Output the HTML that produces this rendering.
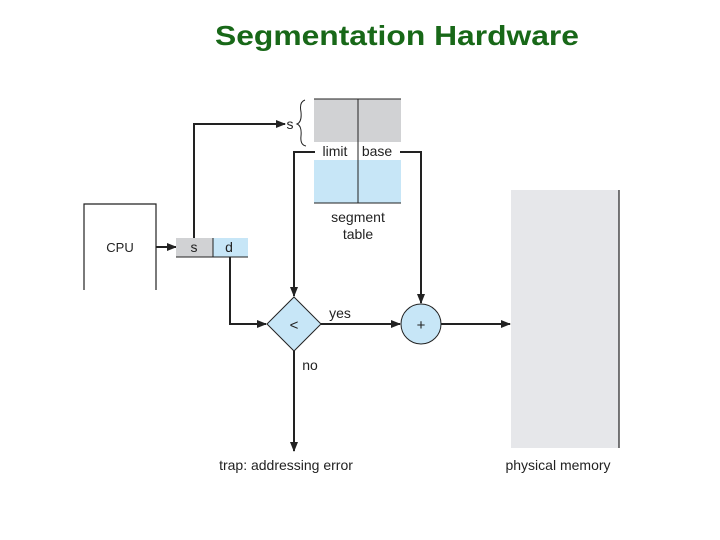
<!DOCTYPE html>
<html><head><meta charset="utf-8"><style>
html,body{margin:0;padding:0;background:#fff;}
svg{display:block;}
text{font-family:"Liberation Sans",sans-serif;}
</style></head><body>
<svg width="720" height="540" viewBox="0 0 720 540" xmlns="http://www.w3.org/2000/svg">
<defs>
<marker id="a" markerWidth="10" markerHeight="8" refX="9" refY="4" orient="auto" markerUnits="userSpaceOnUse">
<path d="M0,0 L10,4 L0,8 Z" fill="#222"/></marker>
</defs>
<text x="397" y="45" text-anchor="middle" font-size="28" font-weight="bold" fill="#186818" textLength="364" lengthAdjust="spacingAndGlyphs">Segmentation Hardware</text>

<!-- CPU -->
<path d="M84,290 V204 H156 V290" fill="none" stroke="#222" stroke-width="1.2"/>
<text x="120" y="252" text-anchor="middle" font-size="13" fill="#222">CPU</text>
<line x1="156" y1="247" x2="176" y2="247" stroke="#222" stroke-width="2" marker-end="url(#a)"/>

<!-- s d -->
<rect x="176" y="238" width="37" height="19" fill="#d1d2d4"/>
<rect x="213" y="238" width="35" height="19" fill="#c7e6f7"/>
<line x1="176" y1="257" x2="248" y2="257" stroke="#222" stroke-width="1"/>
<line x1="213" y1="238" x2="213" y2="257" stroke="#222" stroke-width="1"/>
<text x="194" y="252" text-anchor="middle" font-size="14" fill="#222">s</text>
<text x="229" y="252" text-anchor="middle" font-size="14" fill="#222">d</text>

<!-- s up to table -->
<path d="M194,238 V124 H285" fill="none" stroke="#222" stroke-width="2" marker-end="url(#a)"/>
<text x="290" y="129" text-anchor="middle" font-size="14" fill="#222">s</text>
<path d="M305,100 Q299,102 301,112 Q302,122 297,124 Q302,126 301,136 Q300,145 306,146" fill="none" stroke="#222" stroke-width="1"/>

<!-- segment table -->
<rect x="314" y="99" width="87" height="43" fill="#d1d2d4"/>
<rect x="314" y="160" width="87" height="43" fill="#c7e6f7"/>
<line x1="314" y1="99" x2="401" y2="99" stroke="#222" stroke-width="1"/>
<line x1="314" y1="203" x2="401" y2="203" stroke="#222" stroke-width="1"/>
<line x1="358" y1="99" x2="358" y2="203" stroke="#222" stroke-width="1"/>
<text x="335" y="156" text-anchor="middle" font-size="14" fill="#222">limit</text>
<text x="377" y="156" text-anchor="middle" font-size="14" fill="#222">base</text>
<text x="358" y="222" text-anchor="middle" font-size="14" fill="#222">segment</text>
<text x="358" y="239" text-anchor="middle" font-size="14" fill="#222">table</text>

<path d="M315,152 H294 V296" fill="none" stroke="#222" stroke-width="2" marker-end="url(#a)"/>
<path d="M400,152 H421 V303" fill="none" stroke="#222" stroke-width="2" marker-end="url(#a)"/>

<!-- d to compare -->
<path d="M230,257 V324 H266" fill="none" stroke="#222" stroke-width="2" marker-end="url(#a)"/>

<!-- diamond -->
<polygon points="294,297 321,324 294,351 267,324" fill="#c7e6f7" stroke="#222" stroke-width="1"/>
<text x="294" y="330" text-anchor="middle" font-size="15" fill="#222">&lt;</text>
<text x="340" y="318" text-anchor="middle" font-size="14" fill="#222">yes</text>
<line x1="321" y1="324" x2="400" y2="324" stroke="#222" stroke-width="2" marker-end="url(#a)"/>
<text x="310" y="370" text-anchor="middle" font-size="14" fill="#222">no</text>
<line x1="294" y1="351" x2="294" y2="451" stroke="#222" stroke-width="2" marker-end="url(#a)"/>

<!-- circle -->
<circle cx="421" cy="324" r="20" fill="#c7e6f7" stroke="#222" stroke-width="1"/>
<text x="421" y="330" text-anchor="middle" font-size="15" fill="#222">+</text>
<line x1="441" y1="324" x2="510" y2="324" stroke="#222" stroke-width="2" marker-end="url(#a)"/>

<!-- memory -->
<rect x="511" y="190" width="108" height="258" fill="#e6e7ea"/>
<line x1="619" y1="190" x2="619" y2="448" stroke="#222" stroke-width="1.2"/>

<text x="286" y="470" text-anchor="middle" font-size="14" fill="#222">trap: addressing error</text>
<text x="558" y="470" text-anchor="middle" font-size="14" fill="#222">physical memory</text>
</svg>
</body></html>
